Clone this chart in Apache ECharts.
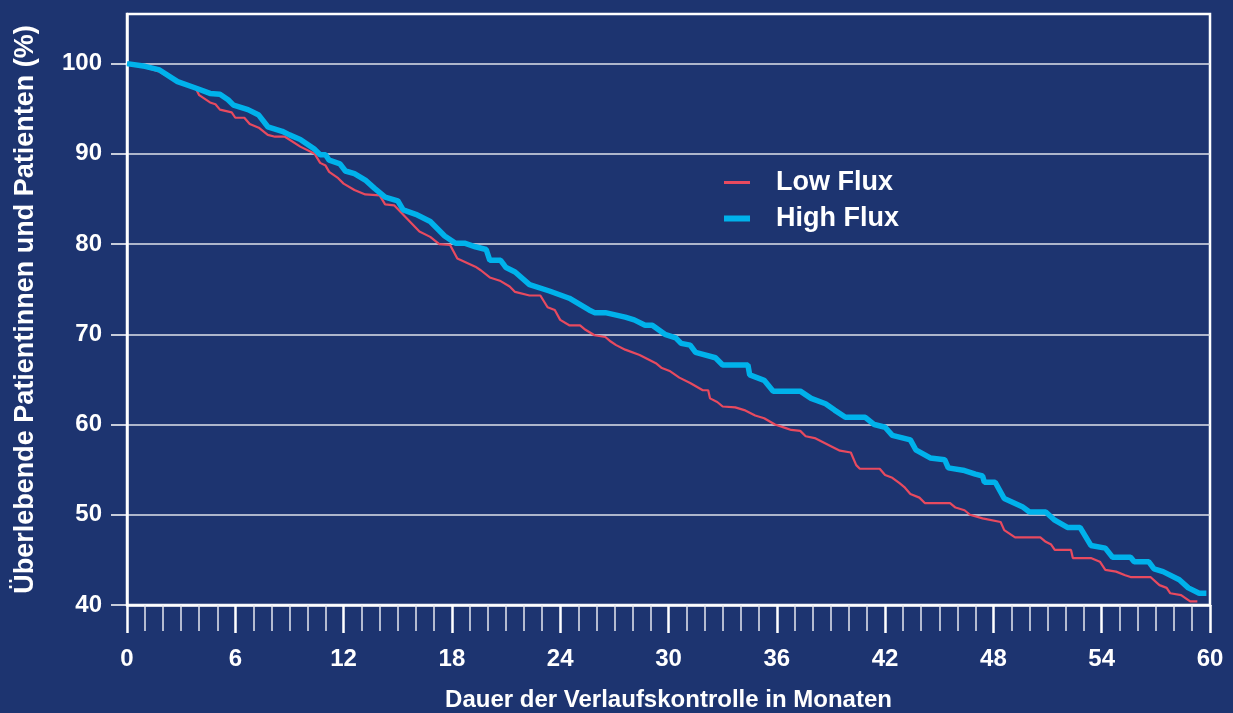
<!DOCTYPE html>
<html>
<head>
<meta charset="utf-8">
<script src="https://cdn.jsdelivr.net/npm/echarts@6/dist/echarts.min.js"></script>
<style>
html,body{margin:0;padding:0;background:#1d3470;}
#chart{width:1233px;height:713px;}
</style>
</head>
<body>
<div id="chart"></div>
<script>
// Months on follow-up and survival (%)
const lowT = [0,1,1.8,2.7,3.8,4,4.6,4.9,5.15,5.8,6,6.5,6.8,7.3,7.8,8.2,8.75,9.6,10.4,10.7,11,11.2,11.7,12,12.6,13.2,14,14.3,14.8,16.2,16.8,17.3,17.9,18.3,19.3,19.6,20.1,20.7,21.2,21.5,22.3,22.9,23.3,23.7,24,24.5,25.1,25.4,25.9,26.5,26.8,27.1,27.6,28.4,29.3,29.6,30.1,30.6,31.2,31.9,32.2,32.3,32.7,33,33.7,34.2,34.8,35.3,35.9,36.5,36.8,37.3,37.6,38.1,39,39.5,40.1,40.4,40.6,41.7,42,42.4,42.8,43.1,43.4,43.9,44.2,45.6,45.9,46.4,46.7,47.4,48.4,48.6,49.2,50.6,50.9,51.2,51.4,52.3,52.4,53.4,53.9,54.2,54.8,55.3,55.6,56.7,57.2,57.6,57.8,58.4,58.9,59.3];
const lowV = [100,99.6,99.1,98.1,97.3,96.5,95.7,95.5,94.9,94.6,94.0,94.0,93.3,92.9,92.1,91.9,91.9,90.8,90.0,89.0,88.7,88.0,87.3,86.7,86.0,85.5,85.4,84.4,84.3,81.4,80.8,80.0,79.9,78.4,77.5,77.1,76.3,75.9,75.3,74.7,74.3,74.3,73.0,72.7,71.6,71.0,71.0,70.5,69.9,69.7,69.2,68.8,68.3,67.7,66.8,66.3,65.9,65.2,64.6,63.8,63.8,62.9,62.5,62.0,61.9,61.6,61.0,60.7,60.0,59.6,59.4,59.3,58.7,58.5,57.6,57.1,56.9,55.5,55.1,55.1,54.4,54.1,53.5,53.0,52.3,51.9,51.3,51.3,50.8,50.5,50.0,49.6,49.2,48.3,47.5,47.5,47.0,46.7,46.1,46.1,45.2,45.2,44.8,43.9,43.7,43.3,43.1,43.1,42.2,41.9,41.3,41.1,40.4,40.4];
const highT = [0,1,1.8,2.8,3.8,4.6,5.15,5.6,5.9,6.7,7.3,7.8,8.6,9,9.6,10.4,10.7,11,11.2,11.8,12.1,12.6,13.2,13.7,14.3,15,15.3,16,16.8,17.6,18.2,18.7,19.3,19.9,20.1,20.7,21,21.5,22.3,22.4,23.4,24.5,25.6,25.9,26.5,27.6,28.1,28.7,29.1,29.8,30.4,30.7,31.2,31.5,32.6,33,34.4,34.5,35.3,35.8,37.3,37.9,38.7,39.2,39.8,40.9,41.4,42,42.4,43.4,43.7,44.5,45.3,45.5,46.4,47,47.4,47.5,48.1,48.6,49.6,50,50.9,51.4,52.1,52.8,53.4,54.2,54.6,55.6,55.8,56.6,56.9,57.4,58.3,58.8,59.4,59.8];
const highV = [100,99.7,99.3,98.0,97.3,96.7,96.6,96.0,95.4,94.9,94.3,93.0,92.5,92.1,91.6,90.5,89.9,89.9,89.3,88.9,88.1,87.8,87.1,86.2,85.2,84.8,83.8,83.3,82.5,80.9,80.1,80.1,79.7,79.4,78.2,78.2,77.4,76.9,75.5,75.3,74.8,74.0,72.7,72.4,72.4,71.9,71.6,71.0,71.0,70.0,69.6,69.0,68.8,68.0,67.4,66.6,66.6,65.5,64.9,63.7,63.7,62.9,62.3,61.6,60.8,60.8,60.0,59.7,58.8,58.3,57.2,56.3,56.1,55.2,54.9,54.5,54.3,53.6,53.6,51.8,50.9,50.3,50.3,49.4,48.6,48.6,46.6,46.3,45.3,45.3,44.8,44.8,44.0,43.7,42.8,41.9,41.3,41.3];
const xTicks = [0,6,12,18,24,30,36,42,48,54,60];
const yTicks = [40,50,60,70,80,90,100];
const seriesNames = ['Low Flux','High Flux'];

const lowData = lowT.map((t,i)=>[t,lowV[i]]);
const highData = highT.map((t,i)=>[t,highV[i]]);

const chart = echarts.init(document.getElementById('chart'), null, {renderer:'canvas'});
const FONT = '"Liberation Sans", Arial, sans-serif';
const legendText = {color:'#ffffff',fontFamily:FONT,fontWeight:'bold',fontSize:27,padding:[0,0,0,21]};
chart.setOption({
  backgroundColor:'#1d3470',
  animation:false,
  grid:{left:127,right:23,top:14,bottom:108,containLabel:false,outerBoundsMode:'none',
    show:true,borderColor:'#ffffff',borderWidth:2.5,backgroundColor:'transparent'},
  legend:[
    {orient:'vertical', left:719, top:164, itemWidth:26, itemHeight:3, icon:'rect',
      textStyle:legendText, data:[seriesNames[0]]},
    {orient:'vertical', left:719, top:200, itemWidth:26, itemHeight:6, icon:'rect',
      textStyle:legendText, data:[seriesNames[1]]}
  ],
  xAxis:{
    type:'value', min:0, max:60, interval:6,
    name:'Dauer der Verlaufskontrolle in Monaten', nameLocation:'middle', nameGap:83,
    nameTextStyle:{color:'#ffffff',fontFamily:FONT,fontWeight:'bold',fontSize:24},
    axisLine:{show:true,onZero:false,lineStyle:{color:'#ffffff',width:2.5}},
    axisTick:{show:true,inside:false,length:28,lineStyle:{color:'#ffffff',width:2.5}},
    minorTick:{show:true,splitNumber:6,length:26,lineStyle:{color:'#e6e8f0',width:1.5}},
    axisLabel:{color:'#ffffff',fontFamily:FONT,fontWeight:'bold',fontSize:24,margin:42,
      formatter:v=>xTicks.includes(v)?String(v):''},
    splitLine:{show:false}
  },
  yAxis:{
    type:'value', min:40, max:105.5, interval:10,
    name:'Überlebende Patientinnen und Patienten (%)', nameLocation:'middle', nameGap:88, nameRotate:90,
    nameTextStyle:{color:'#ffffff',fontFamily:FONT,fontWeight:'bold',fontSize:27},
    axisLine:{show:true,onZero:false,lineStyle:{color:'#ffffff',width:2.5}},
    axisTick:{show:true,inside:false,length:16,customValues:yTicks,lineStyle:{color:'#ffffff',width:1.5}},
    axisLabel:{color:'#ffffff',fontFamily:FONT,fontWeight:'bold',fontSize:24,margin:25,customValues:yTicks,
      formatter:v=>yTicks.includes(v)?String(v):''},
    splitLine:{show:true,lineStyle:{color:'#dfe2ea',width:1.5}}
  },
  series:[
    {name:seriesNames[0],type:'line',data:lowData,symbol:'none',showSymbol:false,z:2,
      lineStyle:{color:'#e84a5f',width:2.2},itemStyle:{color:'#e84a5f'}},
    {name:seriesNames[1],type:'line',data:highData,symbol:'none',showSymbol:false,z:3,
      lineStyle:{color:'#00b2eb',width:5.5},itemStyle:{color:'#00b2eb'}}
  ]
});
</script>
</body>
</html>
